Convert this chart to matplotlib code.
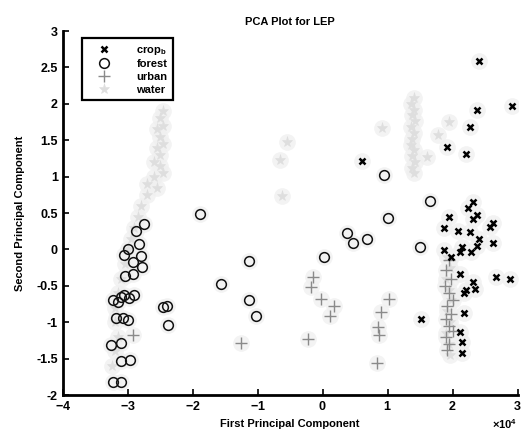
import numpy as np
import matplotlib
matplotlib.use("Agg")
import matplotlib.pyplot as plt
from matplotlib.ticker import ScalarFormatter

plt.rcParams.update({
    "font.family": ["Liberation Sans", "DejaVu Sans"],
    "font.size": 8,
    "font.weight": "bold",
    "axes.labelweight": "bold",
    "mathtext.fontset": "custom",
    "mathtext.rm": "Liberation Sans:bold",
})

SCALE = 1e4  # first component is stored in units of 1e4

# ── class scores (PC1 in 1e4 units, PC2) ──
crop_x = [2.40, 2.92, 2.38, 2.26, 1.92, 2.20, 0.60, 2.31, 2.23, 2.38, 1.94, 2.31,
          2.62, 1.86, 2.08, 2.26, 2.58, 2.40, 2.62, 2.38, 2.15, 2.28, 2.12, 1.86,
          1.98, 2.12, 2.32, 2.66, 2.89, 2.20, 2.35, 2.17, 2.17, 1.51, 2.12, 2.15,
          2.14]
crop_y = [2.59, 1.97, 1.92, 1.68, 1.41, 1.31, 1.22, 0.65, 0.57, 0.47, 0.45, 0.42,
          0.36, 0.30, 0.25, 0.24, 0.31, 0.14, 0.09, 0.05, 0.03, -0.03, -0.03, -0.01,
          -0.10, -0.34, -0.45, -0.38, -0.41, -0.56, -0.54, -0.60, -0.87, -0.95, -1.13, -1.27,
          -1.42]

forest_x = [-1.89, -2.75, -2.88, -2.82, -3.00, -3.06, -2.80, -2.92, -2.78, -3.05,
            -2.92, -3.22, -3.11, -3.06, -2.98, -2.91, -3.15, -3.18, -3.08, -3.00,
            -2.45, -2.40, -2.38, -3.26, -3.11, -3.11, -2.97, -3.22, -3.11, -1.57,
            -1.14, -1.14, -1.02, 0.02, 0.38, 0.46, 0.68, 1.00, 0.95, 1.65, 1.49]
forest_y = [0.49, 0.35, 0.25, 0.08, 0.00, -0.08, -0.09, -0.17, -0.24, -0.36,
            -0.34, -0.69, -0.65, -0.63, -0.67, -0.63, -0.72, -0.94, -0.94, -0.97,
            -0.79, -0.78, -1.04, -1.31, -1.28, -1.53, -1.52, -1.82, -1.82, -0.47,
            -0.16, -0.69, -0.91, -0.10, 0.23, 0.09, 0.14, 0.43, 1.02, 0.67, 0.03]

urban_x = [-2.92, -1.26, -0.15, -0.18, -0.03, 0.17, 0.11, -0.23, 1.02, 0.89, 0.85,
           0.86, 0.83, 1.95, 1.90, 1.98, 1.88, 1.95, 2.00, 1.92, 1.98, 1.90, 1.95,
           2.00, 1.90, 1.95, 1.92]
urban_y = [-1.17, -1.28, -0.38, -0.52, -0.68, -0.78, -0.91, -1.23, -0.68, -0.86, -1.06,
           -1.17, -1.56, -0.15, -0.28, -0.40, -0.50, -0.60, -0.70, -0.78, -0.88, -0.95, -1.05,
           -1.12, -1.20, -1.30, -1.38]

water_x = [-2.45, -2.50, -2.45, -2.55, -2.50, -2.45, -2.55, -2.50, -2.60, -2.50,
           -2.45, -2.60, -2.70, -2.55, -2.70, -2.80, -2.85, -2.90, -2.95, -3.00,
           -3.05, -3.10, -3.15, -3.20, -3.20, -3.15, -3.20, -3.25,
           1.40, 1.36, 1.40, 1.38, 1.42, 1.36, 1.40, 1.38, 1.36, 1.40, 1.38, 1.42,
           1.38, 1.40,
           -0.55, -0.66, -0.63, 0.92, 1.60, 1.77, 1.94,
           1.92, 1.96, 1.90, 1.94, 1.98, 1.92, 1.96, 1.90, 1.94, 1.96]
water_y = [1.90, 1.80, 1.70, 1.65, 1.55, 1.45, 1.40, 1.30, 1.20, 1.15,
           1.05, 1.00, 0.90, 0.85, 0.75, 0.60, 0.45, 0.30, 0.15, 0.00,
           -0.20, -0.40, -0.60, -0.80, -1.00, -1.20, -1.40, -1.60,
           2.08, 2.00, 1.92, 1.84, 1.76, 1.68, 1.60, 1.52, 1.44, 1.36, 1.28, 1.20,
           1.12, 1.05,
           1.48, 1.23, 0.73, 1.67, 1.27, 1.57, 1.75,
           -0.10, -0.25, -0.40, -0.55, -0.70, -0.85, -1.00, -1.15, -1.30, -1.45]

series = [
    ("crop$_{\\mathrm{b}}$", crop_x, crop_y, dict(marker="x", color="black", ms=5, mew=1.8)),
    ("forest", forest_x, forest_y, dict(marker="o", mfc="none", mec="#111111", ms=7, mew=1.1)),
    ("urban", urban_x, urban_y, dict(marker="+", color="#8a8a8a", ms=8, mew=1.0)),
    ("water", water_x, water_y, dict(marker="*", color="#dedede", ms=8, mew=0.4)),
]

fig = plt.figure(figsize=(5.32, 4.43), dpi=100)
ax = fig.add_axes([0.118, 0.108, 0.855, 0.822])

# faint halo behind every point
for _, xs, ys, _ in series:
    ax.plot(np.array(xs) * SCALE, ys, ls="none", marker="o", ms=12,
            mfc="#f0f0f0", mec="none", alpha=0.8, zorder=0)

handles = []
for order, (name, xs, ys, kw) in zip([4, 3, 2, 1], series):
    h, = ax.plot(np.array(xs) * SCALE, ys, ls="none", label=name, zorder=order, **kw)
    handles.append(h)

ax.set_xlim(-4 * SCALE, 3 * SCALE)
ax.set_ylim(-2, 3)
ax.set_xticks(np.arange(-4, 4) * SCALE)
ax.set_yticks(np.arange(-2, 3.5, 0.5))
fmt = ScalarFormatter(useMathText=True)
fmt.set_powerlimits((0, 0))
ax.xaxis.set_major_formatter(fmt)
ax.yaxis.set_major_formatter(plt.FuncFormatter(lambda v, p: f"{v:g}"))

for s in ("top", "right"):
    ax.spines[s].set_visible(False)
for s in ("left", "bottom"):
    ax.spines[s].set_linewidth(2.0)
ax.tick_params(direction="in", length=4, width=1.2, labelsize=9)
for lab in ax.get_xticklabels() + ax.get_yticklabels():
    lab.set_fontweight("bold")
ax.xaxis.get_offset_text().set_fontweight("bold")

ax.set_title("PCA Plot for LEP", fontsize=8, fontweight="bold", pad=4)
ax.set_xlabel("First Principal Component", fontsize=8, fontweight="bold")
ax.set_ylabel("Second Principal Component", fontsize=8, fontweight="bold", labelpad=8)

leg = ax.legend(handles=handles, loc="upper left", bbox_to_anchor=(0.035, 0.99),
                fancybox=False, edgecolor="black", framealpha=1, fontsize=8,
                handlelength=3.0, handletextpad=1.4, labelspacing=0.25,
                borderpad=0.5, borderaxespad=0.3)
leg.get_frame().set_linewidth(1.6)
for t in leg.get_texts():
    t.set_fontweight("bold")

fig.savefig("out.png", dpi=100, facecolor="white")
